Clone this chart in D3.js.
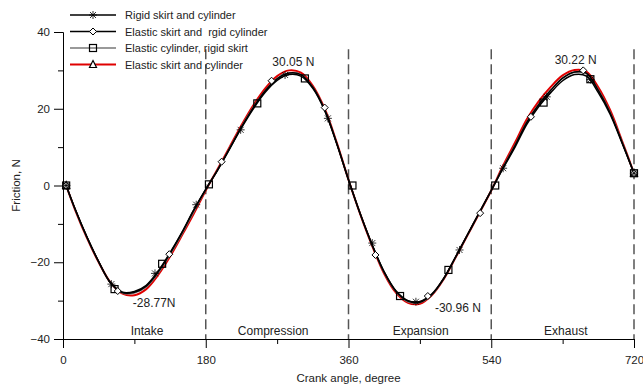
<!DOCTYPE html>
<html>
<head>
<meta charset="utf-8">
<script src="https://cdn.jsdelivr.net/npm/d3@7"></script>
<style>
  body { margin: 0; background: #fff; }
  svg { font-family: "Liberation Sans", Arial, sans-serif; }
</style>
</head>
<body>
<div id="chart"></div>
<script>
// crank angle grid, degree
var angles = [4, 15, 30, 45, 60, 75, 90, 105, 120, 135, 150, 165, 180,
  195, 210, 225, 240, 255, 270, 285, 300, 315, 330, 345, 360,
  375, 390, 405, 420, 435, 450, 465, 480, 495, 510, 525, 540,
  555, 570, 585, 600, 615, 630, 645, 660, 675, 690, 705, 720];

// friction, N
var rigidBoth = [0, -6.0, -13.3, -19.8, -25.3, -27.8, -27.6, -26.0, -22.3, -17.5, -12.2, -6.3, -1.0,
  4.0, 9.5, 15.0, 20.0, 24.3, 27.4, 28.9, 28.5, 25.3, 19.5, 11.0, 1.5,
  -7.5, -15.5, -22.5, -27.5, -30.0, -30.2, -28.3, -24.2, -18.6, -12.8, -7.0, -1.3,
  4.5, 10.0, 16.0, 20.6, 24.2, 27.3, 28.9, 28.5, 24.2, 18.5, 11.0, 3.2];
var elasticSkirt = [0, -6.0, -13.4, -19.9, -25.4, -27.9, -27.8, -26.2, -22.5, -17.7, -12.3, -6.4, -1.0,
  4.1, 9.6, 15.2, 20.3, 24.7, 27.8, 29.3, 28.9, 25.6, 19.7, 11.1, 1.5,
  -7.5, -15.6, -22.6, -27.6, -30.1, -30.4, -28.4, -24.3, -18.7, -12.9, -7.1, -1.3,
  4.7, 10.4, 16.5, 21.1, 24.8, 28.0, 29.6, 29.3, 24.8, 18.9, 11.2, 3.2];
var elasticCylinder = [0, -6.1, -13.4, -19.9, -25.4, -28.0, -28.0, -26.4, -22.8, -18.0, -12.6, -6.8, -1.1,
  4.1, 9.7, 15.3, 20.4, 24.7, 27.9, 29.3, 28.9, 25.6, 19.7, 11.1, 1.5,
  -7.5, -15.6, -22.7, -27.7, -30.3, -30.5, -28.5, -24.3, -18.7, -12.9, -7.1, -1.3,
  4.8, 10.5, 16.6, 21.2, 24.9, 28.0, 29.5, 29.1, 24.9, 19.0, 11.3, 3.2];
var elasticBoth = [0, -6.2, -13.6, -20.0, -25.3, -28.2, -28.6, -27.0, -23.3, -18.5, -13.0, -7.3, -1.3,
  4.3, 10.0, 15.7, 20.9, 25.3, 28.5, 30.0, 29.4, 26.0, 20.0, 11.3, 1.5,
  -7.6, -15.8, -23.0, -28.0, -30.6, -30.8, -28.6, -24.4, -18.8, -13.0, -7.2, -1.3,
  5.2, 11.2, 17.3, 22.0, 25.7, 28.7, 30.1, 29.7, 25.6, 19.6, 11.6, 3.2];

// marker points
var rigidMarkAngles = [4, 61, 116, 168, 224, 280, 334, 390, 445, 500, 555, 610, 665, 720];
var rigidMarkValues = [0, -25.7, -22.9, -5.0, 14.5, 28.8, 17.5, -15.0, -30.3, -16.8, 4.5, 23.1, 27.6, 3.2];
var skirtMarkAngles = [4, 69, 134, 200, 263, 330, 394, 460, 526, 590, 656, 720];
var skirtMarkValues = [0, -27.5, -17.9, 6.2, 27.3, 20.3, -18.1, -28.8, -7.2, 17.9, 30.0, 3.2];
var cylMarkAngles = [4, 65, 125, 184, 245, 305, 365, 425, 486, 545, 606, 665, 720];
var cylMarkValues = [0, -27.0, -20.4, 0.3, 21.4, 27.9, 0, -28.8, -22.0, 0, 21.6, 27.7, 3.2];
var bothMarkAngles = [4, 720];
var bothMarkValues = [0, 3.2];

var seriesNames = ["Rigid skirt and cylinder", "Elastic skirt and  rgid cylinder",
  "Elastic cylinder, rigid skirt", "Elastic skirt and cylinder"];

var xTicks = [0, 180, 360, 540, 720];
var xMinor = [90, 270, 450, 630];
var yTicks = [-40, -20, 0, 20, 40];
var yMinor = [-30, -10, 10, 30];

var strokeAngles = [180, 360, 540, 720];
var strokeNames = ["Intake", "Compression", "Expansion", "Exhaust"];
var strokeLabelAngles = [106, 265, 451, 634];

var peakLabels = ["-28.77N", "30.05 N", "-30.96 N", "30.22 N"];
var peakLabelAngles = [88, 264, 469, 620];
var peakLabelValues = [-31.6, 31.1, -32.9, 31.6];

var width = 643, height = 387;
var margin = { top: 32, right: 9, bottom: 48, left: 63 };

var x = d3.scaleLinear().domain([0, 720]).range([margin.left, width - margin.right]);
var y = d3.scaleLinear().domain([-40, 40]).range([height - margin.bottom, margin.top]);

var svg = d3.select("#chart").append("svg")
  .attr("width", width)
  .attr("height", height);

// dashed stroke separators
svg.selectAll("line.sep")
  .data(strokeAngles)
  .enter().append("line")
  .attr("class", "sep")
  .attr("x1", function (d) { return x(d); })
  .attr("x2", function (d) { return x(d); })
  .attr("y1", y(35.5))
  .attr("y2", y(-40))
  .style("stroke", "#555")
  .style("stroke-width", 1.5)
  .style("stroke-dasharray", "10,5");

// axes
svg.append("g")
  .attr("transform", "translate(0," + y(-40) + ")")
  .call(d3.axisBottom(x).tickValues(xTicks).tickSize(9).tickPadding(8).tickSizeOuter(0));
svg.append("g")
  .attr("transform", "translate(0," + y(-40) + ")")
  .call(d3.axisBottom(x).tickValues(xMinor).tickSize(5).tickFormat("").tickSizeOuter(0));

svg.append("g")
  .attr("transform", "translate(" + x(0) + ",0)")
  .call(d3.axisLeft(y).tickValues(yTicks).tickSize(9).tickPadding(4).tickSizeOuter(0));
svg.append("g")
  .attr("transform", "translate(" + x(0) + ",0)")
  .call(d3.axisLeft(y).tickValues(yMinor).tickSize(5).tickFormat("").tickSizeOuter(0));

svg.selectAll(".domain, .tick line").style("stroke", "#000").style("stroke-width", 1);
svg.selectAll(".tick text")
  .style("font-size", "11.5px")
  .style("fill", "#222")
  .style("font-family", "Liberation Sans, Arial, sans-serif");

// axis titles
svg.append("text")
  .attr("x", (x(0) + x(720)) / 2)
  .attr("y", 382)
  .attr("text-anchor", "middle")
  .style("font-size", "11.5px")
  .style("fill", "#222")
  .text("Crank angle, degree");

svg.append("text")
  .attr("transform", "translate(20," + y(0) + ") rotate(-90)")
  .attr("text-anchor", "middle")
  .style("font-size", "11.5px")
  .style("fill", "#222")
  .text("Friction, N");

// stroke labels
svg.selectAll("text.stroke")
  .data(strokeNames)
  .enter().append("text")
  .attr("class", "stroke")
  .attr("x", function (d, i) { return x(strokeLabelAngles[i]); })
  .attr("y", 335)
  .attr("text-anchor", "middle")
  .style("font-size", "12px")
  .style("fill", "#222")
  .text(function (d) { return d; });

// curves
var line = d3.line()
  .x(function (d) { return x(d[0]); })
  .y(function (d) { return y(d[1]); })
  .curve(d3.curveCatmullRom.alpha(0.5));

function pairs(a, v) {
  return a.map(function (d, i) { return [d, v[i]]; });
}

var series = [
  { name: seriesNames[3], values: elasticBoth, ma: bothMarkAngles, mv: bothMarkValues, color: "#e00000", width: 2, sym: "triangle" },
  { name: seriesNames[2], values: elasticCylinder, ma: cylMarkAngles, mv: cylMarkValues, color: "#777", width: 1.5, sym: "square" },
  { name: seriesNames[1], values: elasticSkirt, ma: skirtMarkAngles, mv: skirtMarkValues, color: "#000", width: 1.5, sym: "diamond" },
  { name: seriesNames[0], values: rigidBoth, ma: rigidMarkAngles, mv: rigidMarkValues, color: "#000", width: 1.5, sym: "asterisk" }
];

series.forEach(function (s) {
  svg.append("path")
    .attr("d", line(pairs(angles, s.values)))
    .style("fill", "none")
    .style("stroke", s.color)
    .style("stroke-width", s.width);
});

function drawMark(g, sym, cx, cy) {
  if (sym === "asterisk") {
    g.append("path")
      .attr("transform", "translate(" + cx + "," + cy + ")")
      .attr("d", "M-4,0H4M0,-4V4M-3,-3L3,3M-3,3L3,-3")
      .style("stroke", "#000").style("stroke-width", 0.8).style("fill", "none");
  } else if (sym === "diamond") {
    g.append("path")
      .attr("transform", "translate(" + cx + "," + cy + ")")
      .attr("d", "M0,-3.5L3.5,0L0,3.5L-3.5,0Z")
      .style("stroke", "#000").style("stroke-width", 1).style("fill", "#fff");
  } else if (sym === "square") {
    g.append("rect")
      .attr("x", cx - 3.5).attr("y", cy - 3.5)
      .attr("width", 7).attr("height", 7)
      .style("stroke", "#000").style("stroke-width", 1.2).style("fill", "none");
  } else {
    g.append("path")
      .attr("transform", "translate(" + cx + "," + cy + ")")
      .attr("d", "M0,-4L3.5,3L-3.5,3Z")
      .style("stroke", "#000").style("stroke-width", 1.2).style("fill", "#fff");
  }
}

var marks = svg.append("g");
series.forEach(function (s) {
  s.ma.forEach(function (a, i) {
    drawMark(marks, s.sym, x(a), y(s.mv[i]));
  });
});

// peak labels
svg.selectAll("text.peak")
  .data(peakLabels)
  .enter().append("text")
  .attr("class", "peak")
  .attr("x", function (d, i) { return x(peakLabelAngles[i]); })
  .attr("y", function (d, i) { return y(peakLabelValues[i]); })
  .style("font-size", "12px")
  .style("fill", "#222")
  .text(function (d) { return d; });

// legend
var legendRows = [3, 2, 1, 0].map(function (k) { return series[k]; });
var legend = svg.append("g");
legendRows.forEach(function (s, i) {
  var ly = 15 + i * 16.5;
  legend.append("line")
    .attr("x1", 70).attr("x2", 116)
    .attr("y1", ly).attr("y2", ly)
    .style("stroke", s.color)
    .style("stroke-width", s.width);
  drawMark(legend, s.sym, 93, ly);
  legend.append("text")
    .attr("x", 125)
    .attr("y", ly + 4)
    .style("font-size", "11px")
    .style("fill", "#222")
    .style("white-space", "pre")
    .text(s.name);
});
</script>
</body>
</html>
